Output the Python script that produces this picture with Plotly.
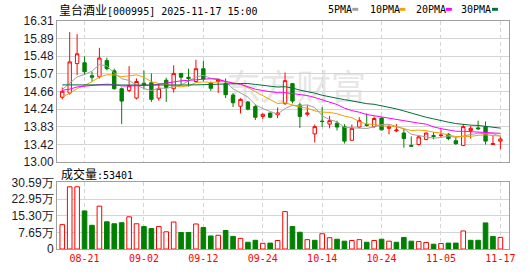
import numpy as np
import plotly.graph_objects as go

# ---------------- data ----------------
dates = [
    "08-18", "08-19", "08-20", "08-21", "08-22", "08-25", "08-26", "08-27", "08-28", "08-29",
    "09-01", "09-02", "09-03", "09-04", "09-05", "09-08", "09-09", "09-10", "09-11", "09-12",
    "09-15", "09-16", "09-17", "09-18", "09-19", "09-22", "09-23", "09-24", "09-25", "09-26",
    "09-29", "09-30", "10-09", "10-10", "10-13", "10-14", "10-15", "10-16", "10-17", "10-20",
    "10-21", "10-22", "10-23", "10-24", "10-27", "10-28", "10-29", "10-30", "10-31", "11-03",
    "11-04", "11-05", "11-06", "11-07", "11-10", "11-11", "11-12", "11-13", "11-14", "11-17",
]

opens = [
    14.52, 14.62, 15.31, 15.33, 15.025, 15.00, 15.38, 15.14, 14.72, 14.68,
    14.50, 14.85, 14.86, 14.50, 14.92, 14.72, 15.08, 14.99, 14.89, 15.19,
    14.85, 14.89, 14.85, 14.57, 14.31, 14.41, 14.30, 14.07, 14.15, 14.11,
    14.37, 14.84, 14.34, 14.12, 13.66, 13.96, 13.89, 13.91, 13.83, 13.51,
    13.82, 13.88, 13.83, 14.03, 13.79, 13.73, 13.68, 13.39, 13.41, 13.53,
    13.62, 13.62, 13.65, 13.50, 13.39, 13.74, 13.80, 13.83, 13.41, 13.49,
]
highs = [
    14.75, 16.05, 16.00, 15.48, 15.12, 15.68, 15.45, 15.19, 14.75, 15.25,
    14.96, 15.15, 15.08, 14.85, 14.98, 15.27, 15.08, 15.19, 15.40, 15.38,
    14.89, 14.96, 14.96, 14.62, 14.50, 14.43, 14.35, 14.14, 14.16, 14.28,
    15.10, 14.85, 14.39, 14.33, 13.88, 14.29, 14.08, 13.97, 13.89, 13.88,
    14.05, 14.14, 14.07, 14.05, 13.88, 13.89, 13.78, 13.60, 13.63, 13.69,
    13.70, 13.76, 13.68, 13.59, 13.89, 13.85, 13.97, 13.95, 13.63, 13.59,
]
lows = [
    14.47, 14.58, 15.04, 15.04, 14.89, 14.96, 15.15, 14.70, 13.89, 14.64,
    14.47, 14.70, 14.41, 14.44, 14.41, 14.63, 14.81, 14.77, 14.87, 14.89,
    14.67, 14.62, 14.50, 14.29, 14.14, 14.21, 13.985, 14.01, 14.03, 14.03,
    14.34, 14.375, 13.80, 14.07, 13.46, 13.82, 13.79, 13.74, 13.435, 13.51,
    13.80, 13.83, 13.80, 13.74, 13.65, 13.70, 13.335, 13.37, 13.39, 13.51,
    13.53, 13.57, 13.51, 13.40, 13.37, 13.55, 13.755, 13.41, 13.40, 13.30,
]
closes = [
    14.66, 15.35, 15.54, 15.12, 14.99, 15.44, 15.19, 14.72, 14.43, 14.79,
    14.89, 14.80, 14.47, 14.73, 14.75, 15.08, 14.99, 14.96, 15.19, 14.95,
    14.73, 14.94, 14.58, 14.39, 14.47, 14.24, 14.05, 14.12, 14.05, 14.15,
    14.91, 14.43, 14.07, 14.15, 13.83, 13.95, 13.97, 13.82, 13.49, 13.79,
    13.97, 13.86, 14.02, 13.755, 13.83, 13.75, 13.55, 13.37, 13.59, 13.68,
    13.60, 13.63, 13.55, 13.43, 13.83, 13.79, 13.78, 13.49, 13.43, 13.54,
]
# volume in units of 万 (10k lots); the last one is 53401 lots
volumes_wan = [
    11.2, 28.6, 28.6, 17.5, 10.9, 19.7, 12.5, 11.6, 12.1, 14.8,
    11.6, 10.3, 9.4, 10.3, 7.9, 12.4, 7.6, 7.6, 11.5, 9.9,
    6.0, 6.3, 8.5, 5.8, 4.9, 3.1, 4.0, 2.6, 2.7, 3.9,
    17.2, 10.3, 7.7, 4.3, 4.0, 7.0, 5.2, 4.5, 3.6, 3.9,
    4.3, 3.1, 3.9, 4.5, 3.6, 3.1, 5.3, 3.6, 3.4, 3.0,
    2.2, 2.5, 2.7, 2.7, 8.3, 4.0, 4.0, 12.0, 5.8, 5.3401,
]
# closes of the 29 sessions before the visible window (estimated so that the
# moving averages start where the pictured MA lines start)
prior_closes = [
    15.30, 15.50, 15.15, 15.00, 15.40, 15.20, 14.80, 14.50, 14.85, 14.95,
    14.80, 14.50, 14.70, 14.75, 15.05, 14.95, 14.90, 15.10, 14.90, 14.70,
    14.55, 14.40, 14.30, 14.25, 14.30, 14.65, 14.75, 14.84, 14.60,
]
ma_periods = [5, 10, 20, 30]
price_tick_labels = ["13.00", "13.42", "13.83", "14.24", "14.66", "15.07", "15.48", "15.89", "16.31"]
price_min, price_max = 13.00, 16.31
volume_tick_labels = ["0", "7.65万", "15.30万", "22.95万", "30.59万"]
volume_max = 30.59
stock_name = "皇台酒业"
stock_code = "000995"
stock_time = "2025-11-17 15:00"
volume_label = "成交量"
watermark = "东方财富"
label_first, label_step = 3, 8

# ---------------- styling ----------------
RED = "#ff0000"
GREEN = "#008000"
ma_colors = ["#a0a0a0", "#f5a000", "#ff00ff", "#00703c"]
BORDER = "#a0a0a0"
GRID = "#d4d4d4"
MONO = "DejaVu Sans Mono, Noto Sans CJK SC, monospace"
SANS = "Liberation Sans, Arial, sans-serif"

W, H = 530, 276
ML, MR, MT, MB = 55, 21, 21, 21
PW, PH = W - ML - MR, H - MT - MB


def px_x(px):
    return (px - ML) / PW


def px_y(py):
    return (H - MB - py) / PH


def cjk(s):
    return f'<span style="font-size:12px;font-family:Noto Sans CJK SC">{s}</span>'


n = len(closes)
idx = np.arange(n)
all_c = np.array(prior_closes + closes, dtype=float)

fig = go.Figure()

# watermark (below everything)
fig.add_shape(type="rect", xref="paper", yref="paper",
              x0=px_x(205), x1=px_x(385), y0=px_y(110), y1=px_y(74),
              line=dict(width=0), fillcolor="rgba(0,0,0,0)", layer="below",
              label=dict(text=watermark,
                         font=dict(size=35, color="#e6e6e6", family="Noto Sans CJK SC"),
                         textposition="middle center"))

fig.add_trace(go.Candlestick(
    x=idx, open=opens, high=highs, low=lows, close=closes,
    increasing=dict(line=dict(color=RED, width=1), fillcolor="#ffffff"),
    decreasing=dict(line=dict(color=GREEN, width=1), fillcolor=GREEN),
    whiskerwidth=0, xaxis="x", yaxis="y", hoverinfo="skip",
))

for p, col in zip(ma_periods, ma_colors):
    ma = np.convolve(all_c, np.ones(p) / p, mode="valid")[-n:]
    fig.add_trace(go.Scatter(x=idx, y=ma, mode="lines",
                             line=dict(color=col, width=1),
                             xaxis="x", yaxis="y", hoverinfo="skip"))

prev_close = np.concatenate([[prior_closes[-1]], closes[:-1]])
up = np.array(closes) >= prev_close
fig.add_trace(go.Bar(
    x=idx, y=volumes_wan, width=0.62,
    marker=dict(color=["#ffffff" if u else GREEN for u in up],
                line=dict(color=[RED if u else GREEN for u in up], width=1)),
    xaxis="x2", yaxis="y2", hoverinfo="skip",
))

tickvals_x = list(range(label_first, n, label_step))
ticktext_x = [dates[i] for i in tickvals_x]
xr = [-0.71, n + 0.16]

common_x = dict(range=xr, tickvals=tickvals_x, showgrid=True, gridcolor=GRID,
                griddash="4px,3px", gridwidth=1, zeroline=False, showline=True,
                mirror=True, linecolor=BORDER, linewidth=1, ticks="",
                fixedrange=True)
common_y = dict(showgrid=True, gridcolor=GRID, gridwidth=1, zeroline=False,
                showline=True, mirror=True, linecolor=BORDER, linewidth=1,
                ticks="", fixedrange=True,
                tickfont=dict(family=SANS, size=12, color="#1a1a2a"))

vol_top = 186.7
price_bottom = 165.7

fig.update_layout(
    width=W, height=H, margin=dict(l=ML, r=MR, t=MT, b=MB),
    paper_bgcolor="#ffffff", plot_bgcolor="#ffffff", showlegend=False,
    xaxis=dict(domain=[0, 1], anchor="y", showticklabels=False,
               rangeslider=dict(visible=False), **common_x),
    xaxis2=dict(domain=[0, 1], anchor="y2", matches="x", showticklabels=True,
                ticktext=ticktext_x, tickfont=dict(family=MONO, size=10, color=RED),
                rangeslider=dict(visible=False), **common_x),
    yaxis=dict(domain=[px_y(price_bottom), 1], anchor="x", range=[price_min, price_max],
               tickvals=list(np.linspace(price_min, price_max, len(price_tick_labels))),
               ticktext=price_tick_labels, **common_y),
    yaxis2=dict(domain=[0, px_y(vol_top)], anchor="x2", range=[0, volume_max],
                tickvals=list(np.linspace(0, volume_max, len(volume_tick_labels))),
                ticktext=volume_tick_labels, **common_y),
    bargap=0.3, boxgap=0.35,
)

annotations = [
    dict(text=cjk(stock_name) + f"[{stock_code}] {stock_time}",
         xref="paper", yref="paper", x=px_x(55.5), y=px_y(9),
         xanchor="left", yanchor="middle", showarrow=False,
         font=dict(family=MONO, size=10, color="#000000")),
    dict(text=cjk(volume_label) + ":" + str(int(round(volumes_wan[-1] * 10000))),
         xref="paper", yref="paper", x=px_x(57), y=px_y(177.5),
         xanchor="left", yanchor="middle", showarrow=False,
         font=dict(family=MONO, size=10, color="#000000")),
]
legend_text_x = [325.6, 367.5, 413.1, 458.8]
legend_mark_x = [351.6, 398.9, 445.6, 491.9]
for p, col, tx, mx in zip(ma_periods, ma_colors, legend_text_x, legend_mark_x):
    annotations.append(dict(text=f"{p}PMA", xref="paper", yref="paper",
                            x=px_x(tx), y=px_y(9), xanchor="left", yanchor="middle",
                            showarrow=False,
                            font=dict(family=MONO, size=10, color="#000000")))
    fig.add_shape(type="rect", xref="paper", yref="paper",
                  x0=px_x(mx), x1=px_x(mx + 6), y0=px_y(10.5), y1=px_y(7.5),
                  line=dict(width=0), fillcolor=col)
fig.update_layout(annotations=annotations)

fig.write_html("out.html")
